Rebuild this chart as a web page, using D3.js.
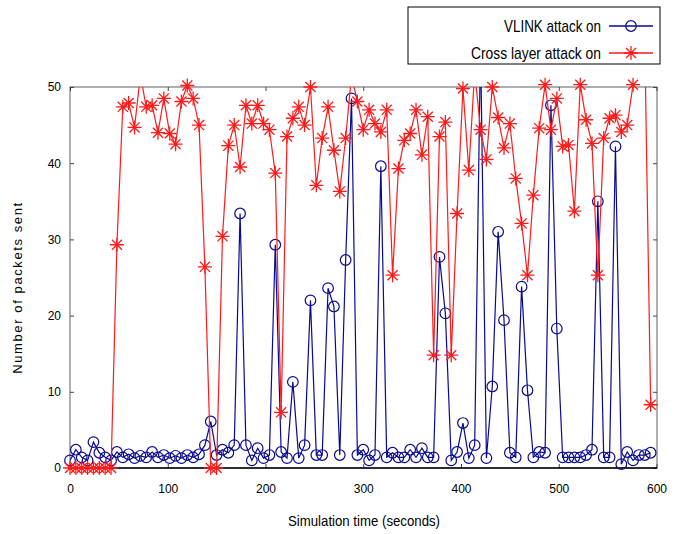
<!DOCTYPE html>
<html>
<head>
<meta charset="utf-8">
<script src="https://cdn.jsdelivr.net/npm/d3@7"></script>
<style>
  html, body { margin: 0; padding: 0; background: #fff; }
  svg text { font-family: "Liberation Sans", Arial, sans-serif; fill: #000; }
</style>
</head>
<body>
<div id="chart"></div>
<script>
//Datos: tiempo (s) cada 6 segundos
const times = d3.range(0, 600, 6);

//VLINK attack on
const vlinkValues = [
  1.0, 2.4, 1.4, 1.0, 3.4, 2.0, 1.4, 1.0, 2.1, 1.4,
  1.8, 1.3, 1.6, 1.4, 2.1, 1.4, 1.7, 1.3, 1.6, 1.3,
  1.7, 1.4, 1.8, 3.0, 6.1, 1.7, 2.4, 2.0, 3.0, 33.4,
  3.0, 1.0, 2.6, 1.3, 1.7, 29.3, 2.1, 1.3, 11.3, 1.3,
  3.0, 22.0, 1.7, 1.7, 23.6, 21.2, 1.7, 27.3, 48.5, 1.7,
  2.4, 1.0, 1.7, 39.6, 1.4, 2.0, 1.4, 1.4, 2.4, 1.4,
  2.6, 1.4, 1.4, 27.7, 20.3, 1.0, 2.1, 5.9, 1.3, 3.0,
  56.0, 1.3, 10.7, 31.0, 19.4, 2.0, 1.4, 23.8, 10.2, 1.4,
  2.1, 2.0, 47.6, 18.3, 1.4, 1.4, 1.4, 1.4, 1.7, 2.4,
  35.0, 1.4, 1.4, 42.2, 0.5, 2.1, 1.0, 1.7, 1.7, 2.0
];

//Cross layer attack on
const crossValues = [
  0, 0, 0, 0, 0, 0, 0, 0, 29.3, 47.4,
  47.9, 44.7, 51.5, 47.4, 47.6, 44.0, 48.5, 43.9, 42.5, 48.1,
  50.2, 48.5, 45.0, 26.4, 0, 0, 30.4, 42.3, 45.0, 39.5,
  47.6, 45.2, 47.6, 45.2, 44.4, 38.7, 7.3, 43.5, 45.9, 47.4,
  45.0, 50.0, 37.1, 43.3, 47.4, 41.7, 36.3, 43.3, 51.5, 48.1,
  44.4, 47.0, 45.2, 44.1, 47.0, 25.3, 39.3, 43.0, 43.9, 47.0,
  41.1, 46.1, 14.8, 43.5, 45.4, 14.8, 33.4, 49.8, 39.1, 52.0,
  44.4, 40.5, 50.0, 46.0, 42.0, 45.2, 38.0, 32.1, 25.3, 35.8,
  44.6, 50.3, 44.4, 48.5, 42.2, 42.4, 33.7, 50.3, 45.7, 42.6,
  25.3, 43.3, 45.9, 46.3, 44.1, 45.0, 50.3, 56.0, 56.0, 8.3
];

const xTicks = [0, 100, 200, 300, 400, 500, 600];
const yTicks = [0, 10, 20, 30, 40, 50];
const seriesNames = ['VLINK attack on', 'Cross layer attack on'];

//Colores
const COLOR_BLUE = '#0a0a8f',
COLOR_RED = '#ff1a1a';

let margin = {top: 87, right: 24, bottom: 66, left: 70},
    width = 681 - margin.left - margin.right,
    height = 534 - margin.top - margin.bottom;

let svg = d3.select('#chart')
  .append('svg')
    .attr('width', 681)
    .attr('height', 534);

let g = svg.append('g')
  .attr('transform', 'translate(' + margin.left + ',' + margin.top + ')');

let x = d3.scaleLinear().domain([0, 600]).range([0, width - 0.5]);
let y = d3.scaleLinear().domain([0, 50]).range([height, 0]);

svg.append('defs').append('clipPath')
  .attr('id', 'clip')
  .append('rect')
    .attr('x', 0).attr('y', 0)
    .attr('width', width).attr('height', height);

//Marco
g.append('rect')
  .attr('x', 0).attr('y', 0)
  .attr('width', width).attr('height', height)
  .attr('fill', 'none')
  .attr('stroke', '#7a7a7a')
  .attr('stroke-width', 1.2);

//Ejes (ticks hacia dentro)
let xAxis = g.append('g')
  .attr('transform', 'translate(0,' + height + ')')
  .call(d3.axisBottom(x).tickValues(xTicks).tickSize(-4).tickPadding(16));
let yAxis = g.append('g')
  .call(d3.axisLeft(y).tickValues(yTicks).tickSize(-4).tickPadding(9));
let xTop = g.append('g')
  .call(d3.axisTop(x).tickValues(xTicks).tickSize(-4).tickFormat(''));
let yRight = g.append('g')
  .attr('transform', 'translate(' + width + ',0)')
  .call(d3.axisRight(y).tickValues(yTicks).tickSize(-4).tickFormat(''));

[xAxis, yAxis, xTop, yRight].forEach(function(a) {
  a.select('.domain').remove();
  a.selectAll('.tick line').attr('stroke', '#444');
  a.selectAll('text')
    .style('font-family', '"Liberation Sans", Arial, sans-serif')
    .style('font-size', '12px');
});

//Línea base en negro
g.append('line')
  .attr('x1', 0).attr('x2', width)
  .attr('y1', height).attr('y2', height)
  .attr('stroke', '#000').attr('stroke-width', 1.3);

let vlinkData = times.map(function(t, i) { return {t: t, v: vlinkValues[i]}; });
let crossData = times.map(function(t, i) { return {t: t, v: crossValues[i]}; });

let line = d3.line()
  .x(function(d) { return x(d.t); })
  .y(function(d) { return y(d.v); });

let plot = g.append('g');

//Serie azul
plot.append('path')
  .datum(vlinkData)
  .attr('clip-path', 'url(#clip)')
  .attr('fill', 'none')
  .attr('stroke', COLOR_BLUE)
  .attr('stroke-width', 1.2)
  .attr('d', line);

plot.append('g')
  .selectAll('circle')
  .data(vlinkData.filter(function(d) { return d.v <= 50.5; }))
  .enter()
  .append('circle')
    .attr('cx', function(d) { return x(d.t); })
    .attr('cy', function(d) { return y(d.v); })
    .attr('r', 5.3)
    .attr('fill', 'none')
    .attr('stroke', COLOR_BLUE)
    .attr('stroke-width', 1.2);

//Serie roja
plot.append('path')
  .datum(crossData)
  .attr('clip-path', 'url(#clip)')
  .attr('fill', 'none')
  .attr('stroke', COLOR_RED)
  .attr('stroke-width', 1.2)
  .attr('d', line);

function star(sel, s) {
  let d = 'M' + (-s) + ',0L' + s + ',0M0,' + (-s) + 'L0,' + s +
    'M' + (-s * 0.72) + ',' + (-s * 0.72) + 'L' + (s * 0.72) + ',' + (s * 0.72) +
    'M' + (-s * 0.72) + ',' + (s * 0.72) + 'L' + (s * 0.72) + ',' + (-s * 0.72);
  sel.append('path')
    .attr('d', d)
    .attr('fill', 'none')
    .attr('stroke', COLOR_RED)
    .attr('stroke-width', 1.3);
}

plot.append('g')
  .selectAll('g')
  .data(crossData.filter(function(d) { return d.v <= 50.5; }))
  .enter()
  .append('g')
    .attr('transform', function(d) { return 'translate(' + x(d.t) + ',' + y(d.v) + ')'; })
    .each(function() { star(d3.select(this), 7); });

//Títulos de ejes (fuente estrecha simulada con textLength)
svg.append('text')
  .attr('x', 288)
  .attr('y', 526)
  .attr('textLength', 152)
  .attr('lengthAdjust', 'spacingAndGlyphs')
  .style('font-size', '15px')
  .text('Simulation time (seconds)');

svg.append('text')
  .attr('transform', 'translate(22,' + (margin.top + height / 2 + 10) + ') rotate(-90)')
  .attr('text-anchor', 'middle')
  .style('font-size', '13px')
  .style('letter-spacing', '1.6px')
  .text('Number of packets sent');

//Leyenda
let legend = svg.append('g').attr('transform', 'translate(408,7)');
legend.append('rect')
  .attr('x', 0).attr('y', 0)
  .attr('width', 252).attr('height', 57)
  .attr('fill', '#fff')
  .attr('stroke', '#000')
  .attr('stroke-width', 1);

let legendColors = [COLOR_BLUE, COLOR_RED];
let legendWidths = [97, 130];
seriesNames.forEach(function(name, i) {
  let ly = 19 + i * 27;
  legend.append('text')
    .attr('x', 193 - legendWidths[i])
    .attr('y', ly + 6)
    .attr('textLength', legendWidths[i])
    .attr('lengthAdjust', 'spacingAndGlyphs')
    .style('font-size', '17px')
    .text(name);
  legend.append('line')
    .attr('x1', 201).attr('x2', 245)
    .attr('y1', ly).attr('y2', ly)
    .attr('stroke', legendColors[i])
    .attr('stroke-width', 1.3);
  let m = legend.append('g').attr('transform', 'translate(223,' + ly + ')');
  if (i == 0) {
    m.append('circle')
      .attr('r', 5.3)
      .attr('fill', 'none')
      .attr('stroke', COLOR_BLUE)
      .attr('stroke-width', 1.2);
  } else {
    star(m, 7);
  }
});
</script>
</body>
</html>
